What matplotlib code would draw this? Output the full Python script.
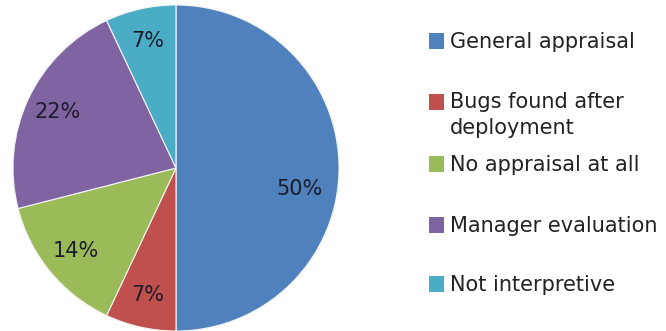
import matplotlib
matplotlib.use('Agg')
import matplotlib.pyplot as plt
from matplotlib.patches import Rectangle

# categorias y porcentajes de la torta
categorias = ['General appraisal', 'Bugs found after\ndeployment', 'No appraisal at all',
              'Manager evaluation', 'Not interpretive']
valores = [50, 7, 14, 22, 7]
colores = ['#4F81BD', '#C0504D', '#9BBB59', '#8064A2', '#4BACC6']

W, H = 666, 331
fig = plt.figure(figsize=(W / 100, H / 100), dpi=100)
fig.patch.set_facecolor('white')

# ejes de la torta: centro (176, 168), radio ~163 px
cx, cy, r = 176, 168, 163
ax = fig.add_axes([(cx - r) / W, (H - cy - r) / H, 2 * r / W, 2 * r / H])

wedges, textos, autotextos = ax.pie(
    valores, colors=colores, startangle=90, counterclock=False,
    autopct='%1.0f%%', pctdistance=0.8, radius=1,
    wedgeprops=dict(edgecolor='#f2f2f2', linewidth=0.8),
    textprops=dict(fontsize=15, color='#1c1c2a'))
ax.set_xlim(-1, 1)
ax.set_ylim(-1, 1)
ax.axis('off')

# la etiqueta del trozo grande va un poco mas abajo
x0, y0 = autotextos[0].get_position()
autotextos[0].set_position((x0 - 0.04, y0 - 0.13))

# leyenda armada a mano, una fila cada 61 px
# (con varias lineas, 'baseline' toma la ultima linea)
y_filas = [41, 102, 164, 225, 284]
for cat, col, yc in zip(categorias, colores, y_filas):
    fig.patches.append(Rectangle((429 / W, 1 - (yc + 8) / H), 15 / W, 16 / H,
                                 transform=fig.transFigure, facecolor=col,
                                 edgecolor='none'))
    extra = 25 * cat.count('\n')
    fig.text(450 / W, 1 - (yc + 7 + extra) / H, cat, fontsize=15, color='#222222',
             va='baseline', ha='left', linespacing=1.36)

fig.savefig('out.png', dpi=100, facecolor='white')
